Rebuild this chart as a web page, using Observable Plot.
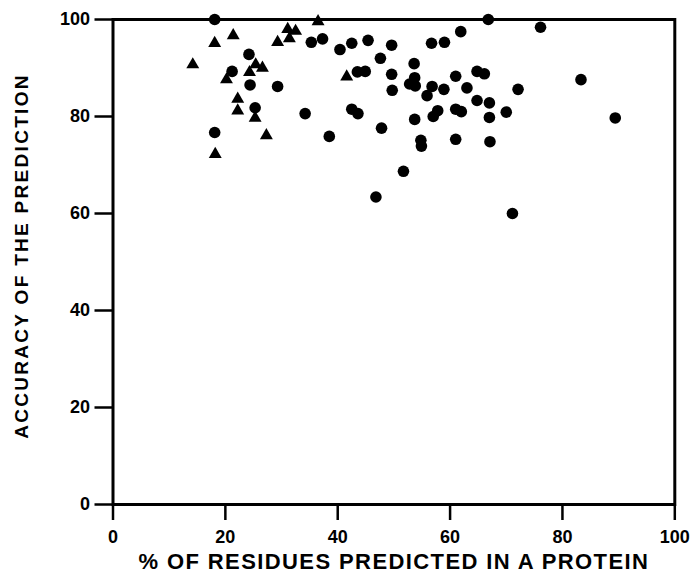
<!DOCTYPE html>
<html>
<head>
<meta charset="utf-8">
<script src="https://cdn.jsdelivr.net/npm/d3@7"></script>
<script src="https://cdn.jsdelivr.net/npm/@observablehq/plot@0.6"></script>
<style>
  html, body { margin: 0; padding: 0; background: #fff; }
  #chart svg { display: block; }
</style>
</head>
<body>
<div id="chart"></div>
<script>
// Axis titles and ticks
const xTitle = "% OF RESIDUES PREDICTED IN A PROTEIN";
const yTitle = "ACCURACY OF THE PREDICTION";
const xTicks = [0, 20, 40, 60, 80, 100];
const yTicks = [0, 20, 40, 60, 80, 100];

// Series 1: triangles
const triX = [18.2, 18.1, 21.4, 14.2, 25.4, 26.6, 24.3, 20.2, 22.2, 22.2, 25.3, 27.3, 31.1, 32.5, 31.4, 29.3, 36.5, 41.6];
const triY = [72.2, 95.1, 96.7, 90.7, 90.7, 90.0, 89.1, 87.6, 83.6, 81.2, 79.7, 76.1, 98.0, 97.6, 96.1, 95.3, 99.6, 88.2];

// Series 2: circles
const circX = [18.1, 24.2, 21.2, 24.4, 29.3, 25.3, 18.1, 35.3, 37.3, 40.4, 42.5, 45.4, 49.6, 47.6, 56.7, 59.0, 61.9, 66.8,
  53.6, 43.5, 44.9, 49.6, 53.7, 52.8, 53.8, 56.8, 55.9, 58.9, 61.0, 63.0, 64.8, 66.1, 64.8, 49.7, 34.2, 42.5, 43.6, 47.8,
  38.5, 53.7, 57.8, 57.0, 61.0, 62.0, 54.8, 54.9, 61.0, 51.7, 46.8, 67.0, 67.0, 70.0, 67.1, 72.1, 76.1, 83.3, 89.4, 71.1];
const circY = [100, 92.8, 89.3, 86.5, 86.2, 81.8, 76.7, 95.3, 96.0, 93.8, 95.1, 95.7, 94.7, 92.0, 95.1, 95.3, 97.5, 100,
  90.9, 89.2, 89.3, 88.7, 88.0, 86.7, 86.3, 86.2, 84.3, 85.6, 88.3, 85.9, 89.3, 88.8, 83.3, 85.4, 80.6, 81.5, 80.6, 77.6,
  75.9, 79.4, 81.2, 80.0, 81.5, 81.0, 75.1, 73.9, 75.3, 68.7, 63.4, 82.8, 79.8, 80.9, 74.8, 85.6, 98.4, 87.6, 79.7, 60];

const triangles = triX.map((x, i) => ({x, y: triY[i]}));
const circles = circX.map((x, i) => ({x, y: circY[i]}));

const font = "'Liberation Sans', Arial, Helvetica, sans-serif";

const chart = Plot.plot({
  width: 695,
  height: 572,
  marginLeft: 112.5,
  marginRight: 20.7,
  marginTop: 19,
  marginBottom: 68,
  style: {fontFamily: font, fontWeight: "bold", background: "#fff", color: "#000"},
  x: {domain: [0, 100], ticks: xTicks},
  y: {domain: [0, 100], ticks: yTicks},
  marks: [
    Plot.axisX({ticks: xTicks, tickSize: 16, tickPadding: 10, fontSize: 18, fontWeight: "bold", strokeWidth: 2.5, label: null}),
    Plot.axisY({ticks: yTicks, tickSize: 18, tickPadding: 5, fontSize: 18, fontWeight: "bold", strokeWidth: 2.5, label: null}),
    Plot.frame({stroke: "#000", strokeWidth: 3}),
    Plot.dot(circles, {x: "x", y: "y", r: 5.8, fill: "#000", stroke: "none", symbol: "circle"}),
    Plot.dot(triangles, {x: "x", y: "y", r: 4.8, fill: "#000", stroke: "none", symbol: "triangle"}),
    Plot.text([xTitle], {text: d => d, frameAnchor: "bottom", textAnchor: "middle", lineAnchor: "bottom", dy: 64, fontSize: 22, fontWeight: "bold", fill: "#000"}),
    Plot.text([yTitle], {text: d => d, frameAnchor: "left", textAnchor: "middle", rotate: -90, lineAnchor: "middle", dx: -91, dy: -6, fontSize: 19, fontWeight: "bold", fill: "#000"})
  ]
});

// letter spacing for titles
chart.querySelectorAll("text").forEach(t => {
  if (t.textContent === xTitle) t.setAttribute("letter-spacing", "1.4");
  if (t.textContent === yTitle) t.setAttribute("letter-spacing", "2.3");
});

document.getElementById("chart").appendChild(chart);
</script>
</body>
</html>
